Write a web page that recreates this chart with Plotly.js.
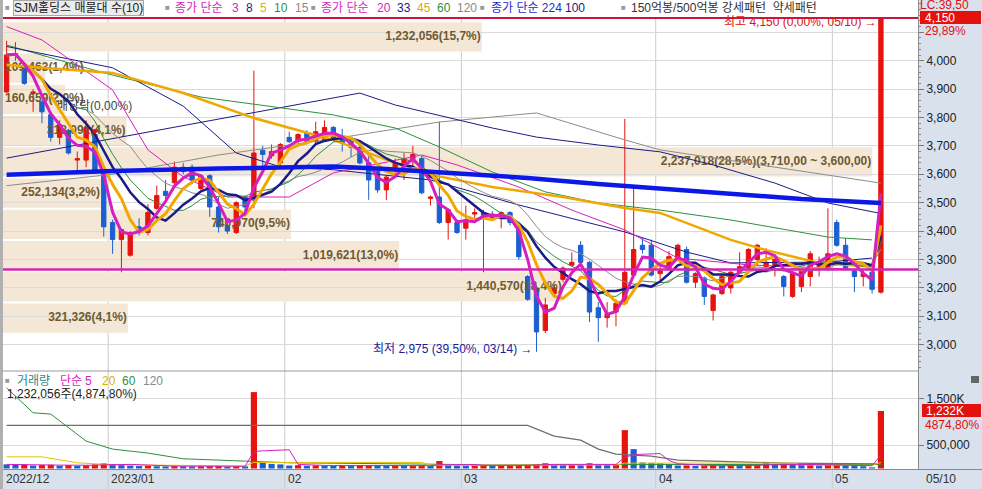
<!DOCTYPE html>
<html>
<head>
<meta charset="utf-8">
<script src="https://cdn.plot.ly/plotly-3.0.1.min.js"></script>
<style>
html,body{margin:0;padding:0;background:#ffffff;overflow:hidden;}
#chart{width:982px;height:489px;}
</style>
</head>
<body>
<div id="chart"></div>
<script>
// ================= DATA =================
const opens = [3890,4020,3980,3885,3855,3810,3730,3755,3650,3650,
3740,3605,3430,3370,3315,3415,3395,3480,3540,3570,
3625,3625,3550,3595,3485,3420,3395,3520,3510,3685,
3665,3640,3730,3715,3745,3715,3720,3765,3725,3715,
3695,3640,3610,3545,3625,3640,3655,3655,3515,3520,
3430,3430,3410,3460,3465,3460,3450,3465,3415,3240,
3200,3050,3180,3230,3280,3350,3290,3130,3095,3115,
3145,3245,3350,3350,3250,3265,3300,3335,3220,3235,
3120,3180,3200,3255,3270,3300,3275,3280,3240,3170,
3205,3240,3275,3265,3430,3350,3260,3240,3255,3185];
const highs = [4070,4065,3985,3900,3860,3815,3790,3760,3680,3790,
3760,3610,3440,3410,3400,3445,3495,3560,3580,3645,
3640,3635,3600,3600,3520,3430,3505,3525,3965,3700,
3705,3710,3750,3745,3755,3785,3790,3770,3760,3720,
3700,3670,3615,3595,3655,3675,3700,3665,3525,3785,
3480,3440,3490,3480,3475,3470,3470,3470,3425,3245,
3210,3165,3210,3275,3325,3365,3295,3150,3150,3160,
3795,3560,3375,3370,3275,3330,3355,3345,3255,3240,
3180,3245,3260,3325,3340,3355,3340,3305,3245,3260,
3270,3330,3310,3480,3440,3375,3265,3265,3260,4150];
const lows = [3885,4000,3915,3820,3780,3715,3705,3670,3615,3625,
3605,3380,3320,3255,3310,3385,3385,3475,3500,3560,
3600,3565,3545,3450,3395,3390,3390,3465,3480,3620,
3655,3630,3710,3710,3705,3710,3715,3715,3680,3660,
3635,3510,3535,3510,3600,3580,3615,3530,3490,3425,
3370,3390,3370,3445,3255,3440,3410,3420,3300,3155,
2975,3040,3170,3220,3275,3285,3080,3010,3060,3065,
3140,3240,3320,3240,3225,3260,3295,3215,3200,3140,
3085,3175,3180,3250,3265,3280,3255,3240,3170,3165,
3185,3205,3240,3260,3345,3260,3185,3205,3180,3180];
const closes = [4020,4025,3920,3890,3820,3730,3775,3675,3655,3765,
3615,3415,3370,3405,3395,3395,3465,3525,3525,3625,
3610,3580,3595,3485,3415,3400,3500,3485,3675,3670,
3680,3705,3715,3740,3715,3750,3765,3720,3710,3695,
3640,3580,3545,3590,3640,3655,3670,3535,3520,3430,
3475,3395,3440,3465,3455,3445,3465,3430,3310,3160,
3045,3140,3200,3270,3290,3290,3115,3095,3110,3145,
3255,3335,3335,3245,3260,3310,3350,3220,3250,3170,
3175,3240,3255,3275,3335,3350,3290,3300,3205,3255,
3265,3320,3290,3320,3350,3265,3240,3250,3195,4150];
const volumes = [88000,77000,83000,64000,74000,80000,61000,72000,56000,67000,
88000,109000,96000,83000,64000,53000,58000,48000,45000,53000,
48000,43000,48000,51000,56000,40000,48000,45000,1636000,120000,
99000,88000,64000,72000,61000,67000,64000,56000,61000,53000,
64000,72000,67000,58000,64000,56000,61000,67000,53000,160000,
72000,64000,61000,67000,72000,56000,61000,64000,72000,80000,
96000,112000,80000,77000,83000,72000,112000,88000,77000,88000,
822000,415000,128000,120000,112000,88000,64000,67000,56000,61000,
64000,58000,67000,61000,72000,77000,115000,80000,109000,83000,
77000,80000,64000,88000,93000,72000,56000,48000,25273,1232056];

const monthTicks = [11.5, 31.5, 51.5, 73.5, 93.5];
const monthLabels = ['2023/01', '02', '03', '04', '05'];
const firstMonthLabel = '2022/12';
const lastDateLabel = '05/10';
const priceTicks = [3000,3100,3200,3300,3400,3500,3600,3700,3800,3900,4000,4100];
const volTicks = [500000, 1500000];
const volTickText = ['500,000', '1,500K'];

// volume profile (매물대) bands
const bandLow  = [4040, 3930, 3820, 3710, 3600, 3490, 3380, 3270, 3160, 3050];
const bandHigh = [4150, 4040, 3930, 3820, 3710, 3600, 3490, 3380, 3270, 3160];
const bandVol  = [1232056, 109463, 160659, 318091, 2237018, 252134, 740970, 1019621, 1440570, 321326];
const bandPct  = ['15,7', '1,4', '2,0', '4,1', '28,5', '3,2', '9,5', '13,0', '18,4', '4,1'];

// long moving averages (index, price)
const ma224Idx = [0,12,24,37,43,48,53,59,67,73,81,90,99];
const ma224Val = [3598,3612,3620,3627,3619,3609,3601,3587,3566,3552,3531,3513,3499];
const ma100Idx = [0,18,37,40,44,51,55,60,67,74,80,87,93,99];
const ma100Val = [3657,3760,3869,3886,3844,3791,3763,3731,3703,3679,3633,3569,3499,3462];
const ma120Idx = [0,12,24,37,49,60,70,74,99];
const ma120Val = [3560,3600,3668,3725,3784,3816,3721,3686,3569];
const ma60Idx = [0,11,22,37,44,49,55,61,67,74,82,93,98];
const ma60Val = [4055,3957,3872,3809,3763,3696,3608,3538,3499,3474,3439,3379,3369];
const ma45Idx = [0,12,20,28,37,47,55,63,70,74,82,86,92,98];
const ma45Val = [3985,3957,3886,3798,3721,3605,3555,3520,3481,3464,3369,3333,3288,3274];
const ma33Idx = [0,12,20,26,31,37,48,58,70,77,82,93,98];
const ma33Val = [4050,3975,3840,3675,3626,3616,3580,3492,3397,3326,3288,3291,3305];
const ma20Idx = [0,4,12,16,20,25,32,37,47,51,58,64,70,76,84,93,98];
const ma20Val = [4120,4073,3897,3686,3591,3520,3520,3605,3668,3633,3555,3474,3404,3305,3281,3270,3263];

// volume moving averages
const vma20Idx = [0,4,8,12,27,28,47,48,69,70,89,90,98,99];
const vma20Val = [250000,250000,122000,80000,55000,130000,130000,70000,75000,115000,115000,75000,70000,130000];
const vma60Idx = [0,3,5,9,12,16,20,28,32,47,55,70,99];
const vma60Val = [1728000,1193000,1165000,587000,415000,330000,208000,158000,122000,95000,75000,85000,85000];
const vma120Idx = [0,59,62,65,67,69,73,76,88,99];
const vma120Val = [923000,923000,694000,608000,415000,308000,265000,180000,116000,100000];

const maxPrice = 4150;
const refPrice = 3265;
const exDivIdx = 10, exDivPrice = 3752;
const exDivLabel = '배당락(0,00%)';
const maxLabel = '최고 4,150 (0,00%, 05/10) →';
const minLabel = '최저 2,975 (39,50%, 03/14) →';
const lastVolLabel = '1,232,056주(4,874,80%)';

// ================= GEOMETRY =================
const W = 982, H = 489, ML = 3, MR = 64, MT = 0, MB = 20;
const PW = W - ML - MR, PH = H - MT - MB;
const XMIN = -0.41, XMAX = 103.2;
const YBOT = 2907.4, YTOP = 4213.7;
const PRICE_DOM = [0.209, 1];
const VOL_DOM = [0, 0.209];
const VOL_RANGE = [-10600, 2087800];
const FONT = "'Liberation Sans', 'Noto Sans CJK KR', sans-serif";

const pX = px => (px - ML) / PW;
const pY = py => (PH - (py - MT)) / PH;
const px2idx = px => XMIN + (px - ML) / PW * (XMAX - XMIN);
const idx2px = i => ML + (i - XMIN) / (XMAX - XMIN) * PW;
const fmt = n => n.toLocaleString('en-US');

function sma(arr, n) {
  return arr.map((_, i) => {
    const w = arr.slice(Math.max(0, i - n + 1), i + 1);
    return w.reduce((a, b) => a + b, 0) / w.length;
  });
}

const idx = closes.map((_, i) => i);
const C_RED = '#e5140e', C_BLUE = '#1c5fd0';
const C_MAG = '#d61fbf', C_NAVY = '#1b1b86', C_ORANGE = '#f0a800', C_GREEN = '#2f8f3c', C_GRAY = '#8a8a8a';

const volColors = volumes.map((v, i) => (i > 0 && v >= volumes[i - 1]) ? C_RED : C_BLUE);

// ================= SHAPES =================
const shapes = [];
shapes.push({type:'rect', xref:'paper', yref:'paper', x0:pX(0), x1:pX(3), y0:pY(489), y1:pY(0), fillcolor:'#b0b0b0', line:{width:0}, layer:'above'});
monthTicks.forEach(t => {
  const x = pX(idx2px(t));
  shapes.push({type:'line', xref:'paper', yref:'paper', x0:x, x1:x, y0:pY(489), y1:pY(17), line:{color:'#cccccc', width:1}, layer:'below'});
});
const maxBandVol = Math.max(...bandVol);
const bandTextX = [], bandTextY = [], bandText = [], bandTextPos = [];
bandVol.forEach((v, k) => {
  const frac = v / maxBandVol * 0.95;
  const y0 = bandLow[k] - 8, y1 = bandHigh[k] - 15;
  shapes.push({type:'rect', xref:'paper', yref:'y', x0:0, x1:frac, y0:y0, y1:y1, fillcolor:'#f5e7d5', line:{width:0}, layer:'between'});
  let t = fmt(v) + '(' + bandPct[k] + '%)';
  if (v === maxBandVol) t += '(' + fmt(bandHigh[k]) + ',00 ~ ' + fmt(bandLow[k]) + ',00)';
  const wpx = frac * PW;
  bandTextY.push((y0 + y1) / 2);
  bandText.push(t);
  if (wpx >= 90) { bandTextX.push(px2idx(ML + wpx - 1)); bandTextPos.push('middle left'); }
  else { bandTextX.push(px2idx(5)); bandTextPos.push('middle right'); }
});
shapes.push({type:'line', xref:'paper', yref:'y', x0:0, x1:1, y0:maxPrice, y1:maxPrice, line:{color:'#cc1440', width:2}, layer:'above'});
shapes.push({type:'line', xref:'paper', yref:'y', x0:0, x1:1, y0:refPrice, y1:refPrice, line:{color:'#d424b8', width:2.5}, layer:'above'});
shapes.push({type:'line', xref:'paper', yref:'paper', x0:0, x1:1, y0:pY(371), y1:pY(371), line:{color:'#9a9a9a', width:1}, layer:'above'});
shapes.push({type:'line', xref:'paper', yref:'paper', x0:0, x1:1.07, y0:pY(469.5), y1:pY(469.5), line:{color:'#8a8a8a', width:1}, layer:'above'});
shapes.push({type:'rect', xref:'paper', yref:'paper', x0:pX(920), x1:pX(981), y0:pY(24), y1:pY(11), fillcolor:'#e3120e', line:{width:0}, layer:'above'});
shapes.push({type:'rect', xref:'paper', yref:'paper', x0:pX(922), x1:pX(981), y0:pY(417), y1:pY(404), fillcolor:'#e3120e', line:{width:0}, layer:'above'});
shapes.push({type:'rect', xref:'paper', yref:'paper', x0:pX(971), x1:pX(979), y0:pY(383), y1:pY(376), fillcolor:'#666666', line:{width:0}, layer:'above'});

// ================= ANNOTATIONS =================
function ann(px, py, text, color, extra) {
  return Object.assign({xref:'paper', yref:'paper', x:pX(px), y:pY(py), xanchor:'left', yanchor:'middle',
    text:text, showarrow:false, borderpad:0, font:{family:FONT, size:12, color:color}}, extra || {});
}
const sq = (px, py) => ann(px, py, '■', '#9a9a9a', {font:{family:FONT, size:8, color:'#9a9a9a'}});
const annotations = [
  sq(4, 8),
  ann(13, 8, 'SJM홀딩스 매물대 수(10)', '#222222', {bgcolor:'#ececec', bordercolor:'#a8a8a8', borderwidth:1}),
  sq(164, 8),
  ann(174, 8, '종가 단순', C_MAG), ann(231, 8, '3', C_MAG), ann(245, 8, '8', C_NAVY), ann(259, 8, '5', '#e0b000'),
  ann(273, 8, '10', C_GREEN), ann(294, 8, '15', C_GRAY),
  sq(310, 8),
  ann(320, 8, '종가 단순', C_MAG), ann(376, 8, '20', C_MAG), ann(396, 8, '33', C_NAVY), ann(416, 8, '45', '#e0a800'),
  ann(436, 8, '60', C_GREEN), ann(456, 8, '120', C_GRAY),
  sq(479, 8),
  ann(490, 8, '종가 단순 224', '#1e2ad0'), ann(564, 8, '100', '#1b1b86'),
  sq(620, 8),
  ann(630, 8, '150억봉/500억봉 강세패턴  약세패턴', '#333333'),
  ann(878, 22, maxLabel, '#e01010', {xanchor:'right'}),
  ann(534, 349, minLabel, '#1a1a9a', {xanchor:'right'}),
  sq(4, 381),
  ann(16, 381, '거래량', '#2a8a8a'), ann(59, 381, '단순', C_MAG), ann(84, 381, '5', C_MAG),
  ann(101, 381, '20', '#e0b400'), ann(121, 381, '60', C_GREEN), ann(142, 381, '120', C_GRAY),
  ann(6, 394, lastVolLabel, '#222222'),
  ann(919, 5, 'LC:39,50', '#e01010'),
  ann(924, 17.5, fmt(maxPrice), '#ffffff'),
  ann(924, 30.5, '29,89%', '#e01010'),
  ann(925, 410.5, '1,232K', '#ffffff'),
  ann(924, 424.5, '4874,80%', '#e01010'),
  ann(925, 479, lastDateLabel, '#333333'),
  ann(5, 479, firstMonthLabel, '#333333')
];
monthTicks.forEach((t, k) => annotations.push(ann(idx2px(t) + 2, 479, monthLabels[k], '#333333')));

// ================= TRACES =================
const line = (xs, ys, color, width, yaxis) => ({type:'scatter', mode:'lines', x:xs, y:ys, yaxis:yaxis || 'y',
  line:{color:color, width:width, shape:'linear'}, hoverinfo:'skip', cliponaxis:true});

const traces = [];
traces.push({type:'scatter', mode:'text', x:bandTextX, y:bandTextY, text:bandText, textposition:bandTextPos,
  textfont:{family:FONT, size:12, color:'#6e5a32', weight:'bold'}, hoverinfo:'skip', cliponaxis:false});
traces.push({type:'scatter', mode:'text', x:[px2idx(57)], y:[3837], text:[exDivLabel], textposition:'middle right',
  textfont:{family:FONT, size:12, color:'#444444'}, hoverinfo:'skip', cliponaxis:false});
traces.push(line(ma120Idx, ma120Val, '#8c8c8c', 1));
traces.push(line(ma100Idx, ma100Val, '#1b1b86', 1));
traces.push(line(ma60Idx, ma60Val, C_GREEN, 1));
traces.push(line(ma33Idx, ma33Val, '#1b1b86', 1));
traces.push(line(ma20Idx, ma20Val, C_MAG, 1));
traces.push(line(ma45Idx, ma45Val, C_ORANGE, 2.5));
traces.push({type:'candlestick', x:idx, open:opens, high:highs, low:lows, close:closes,
  increasing:{line:{color:C_RED, width:1}, fillcolor:C_RED},
  decreasing:{line:{color:C_BLUE, width:1}, fillcolor:C_BLUE},
  whiskerwidth:0, hoverinfo:'skip', xaxis:'x', yaxis:'y'});
traces.push(line(idx, sma(closes, 15), '#8c8c8c', 1));
traces.push(line(idx, sma(closes, 10), C_GREEN, 1));
traces.push(line(idx, sma(closes, 8), C_NAVY, 2.5));
traces.push(line(idx, sma(closes, 5), C_ORANGE, 3));
traces.push(line(idx, sma(closes, 3), C_MAG, 3));
traces.push(line(ma224Idx, ma224Val, '#0b18e6', 4.5));
traces.push({type:'scatter', mode:'markers', x:[exDivIdx], y:[exDivPrice], marker:{symbol:'triangle-down', size:7, color:'#e01010'}, hoverinfo:'skip'});
traces.push({type:'bar', x:idx, y:volumes, yaxis:'y2', width:0.7, marker:{color:volColors, line:{width:0}}, hoverinfo:'skip'});
traces.push(line(vma120Idx, vma120Val, '#6e6e6e', 1.2, 'y2'));
traces.push(line(vma60Idx, vma60Val, C_GREEN, 1, 'y2'));
traces.push(line(vma20Idx, vma20Val, '#e6c200', 1, 'y2'));
traces.push(line(idx, sma(volumes, 5), C_MAG, 1, 'y2'));

const layout = {
  width: W, height: H,
  margin: {l:ML, r:MR, t:MT, b:MB, pad:0},
  paper_bgcolor: '#d8e1ec', plot_bgcolor: '#ffffff',
  showlegend: false,
  boxgap: 0.3,
  xaxis: {range:[XMIN, XMAX], showgrid:false, zeroline:false, showticklabels:false, ticks:'',
    rangeslider:{visible:false}, fixedrange:true, showline:false},
  yaxis: {domain:PRICE_DOM, range:[YBOT, YTOP], side:'right', tickmode:'array', tickvals:priceTicks,
    ticktext:priceTicks.map(v => v === 4100 ? '' : fmt(v)),
    gridcolor:'#dadada', gridwidth:1, zeroline:false, ticks:'outside', ticklen:5, tickcolor:'#777777',
    tickfont:{family:FONT, size:12, color:'#222222'}, showline:true, linecolor:'#8c8c8c', fixedrange:true,
    minor:{tickmode:'linear', tick0:0, dtick:20, ticklen:2, tickcolor:'#888888', showgrid:false}},
  yaxis2: {domain:VOL_DOM, range:VOL_RANGE, side:'right', tickmode:'array', tickvals:volTicks, ticktext:volTickText,
    gridcolor:'#dadada', zeroline:false, ticks:'outside', ticklen:5, tickcolor:'#777777',
    tickfont:{family:FONT, size:12, color:'#222222'}, showline:true, linecolor:'#8c8c8c', fixedrange:true},
  shapes: shapes,
  annotations: annotations
};

Plotly.newPlot('chart', traces, layout, {staticPlot:true, displayModeBar:false});
</script>
</body>
</html>
